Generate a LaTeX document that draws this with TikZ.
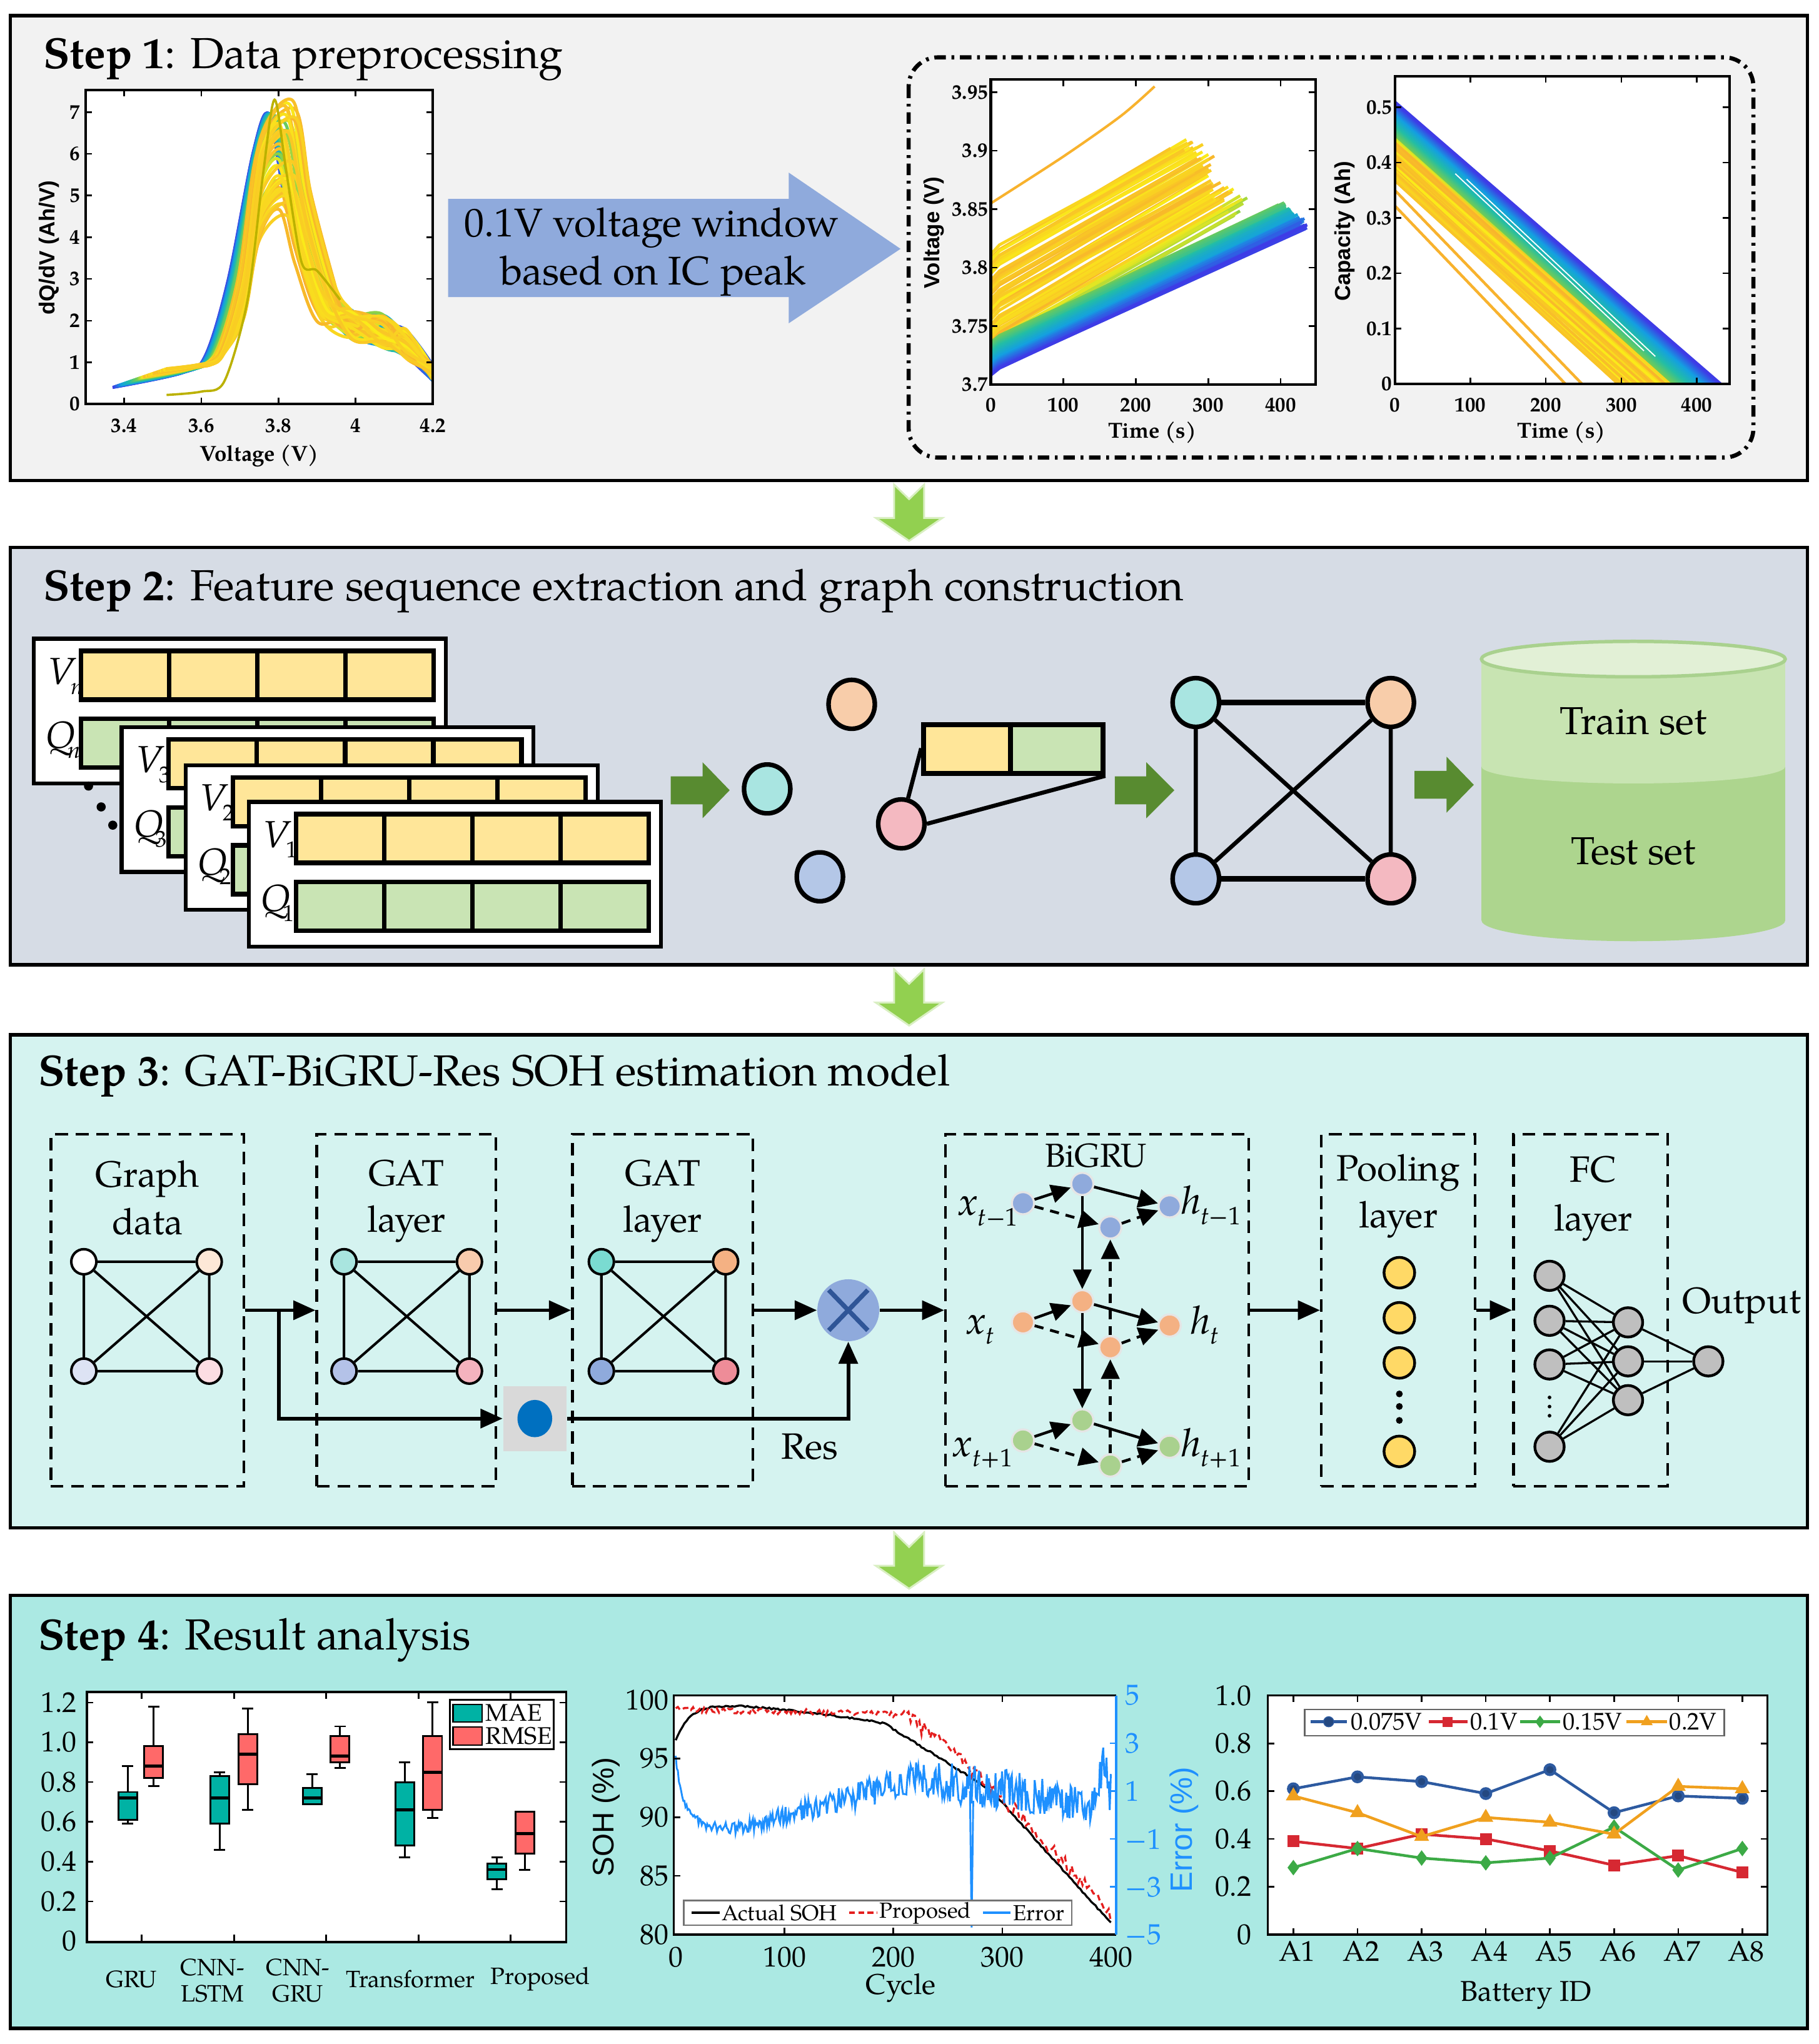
\documentclass[tikz,border=0pt]{standalone}
\usepackage{fontspec}
\setmainfont{TeX Gyre Pagella}
\newfontfamily\lsans{Liberation Sans}
\usetikzlibrary{arrows.meta,shapes.geometric,plotmarks}
\newcommand\fsz[1]{\fontsize{#1}{#1}\selectfont}
\newcommand\lowsub[2]{\raisebox{-0.26em}{\fsz{#1}#2}}
\definecolor{pa}{HTML}{F2F2F2}
\definecolor{pb}{HTML}{D6DCE5}
\definecolor{pc}{HTML}{D5F3F0}
\definecolor{pd}{HTML}{ABE9E3}
\definecolor{bigarr}{HTML}{8FAADC}
\definecolor{lgreen}{HTML}{92D050}
\definecolor{dgreen}{RGB}{88,139,48}
\definecolor{barY}{HTML}{FFE699}
\definecolor{barG}{HTML}{C9E4B4}
\definecolor{ncyan}{HTML}{A9E5E1}
\definecolor{norange}{HTML}{F8CDAA}
\definecolor{nblue}{HTML}{B4C7E7}
\definecolor{npink}{HTML}{F4B9C1}
\definecolor{cylTop}{HTML}{E2F0D6}
\definecolor{cylUp}{HTML}{C8E4B2}
\definecolor{cylLow}{HTML}{ADD58E}
\definecolor{cylEdge}{HTML}{A9D18E}
\definecolor{gaA}{HTML}{FFFFFF}\definecolor{gaB}{HTML}{FDE8D7}\definecolor{gaC}{HTML}{DDE3F4}\definecolor{gaD}{HTML}{FCDDE3}
\definecolor{gbA}{HTML}{A9E5DF}\definecolor{gbB}{HTML}{F8CBAD}\definecolor{gbC}{HTML}{B4C2E8}\definecolor{gbD}{HTML}{F4B3BE}
\definecolor{gcA}{HTML}{7ADBD1}\definecolor{gcB}{HTML}{F4B183}\definecolor{gcC}{HTML}{8FAADC}\definecolor{gcD}{HTML}{EE8C98}
\definecolor{sqgray}{HTML}{D9D9D9}
\definecolor{dotblue}{HTML}{0070C0}
\definecolor{multc}{HTML}{8FAADC}
\definecolor{multx}{HTML}{2F5597}
\definecolor{ruB}{HTML}{8FAADC}
\definecolor{ruO}{HTML}{F4B183}
\definecolor{ruG}{HTML}{A9D18E}
\definecolor{poolY}{HTML}{FFD966}
\definecolor{fcgray}{HTML}{BFBFBF}
\definecolor{maec}{RGB}{0,178,164}
\definecolor{rmsec}{RGB}{255,105,105}
\definecolor{errc}{RGB}{30,144,255}
\definecolor{redd}{RGB}{228,30,30}
\definecolor{cva}{RGB}{45,90,160}
\definecolor{cvb}{RGB}{214,40,50}
\definecolor{cvc}{RGB}{60,170,70}
\definecolor{cvd}{RGB}{240,160,30}
\definecolor{cmA}{RGB}{62,60,230}
\definecolor{cmB}{RGB}{20,160,225}
\definecolor{cmC}{RGB}{35,190,165}
\definecolor{cmD}{RGB}{120,205,80}
\definecolor{cmE}{RGB}{250,235,25}
\definecolor{cmF}{RGB}{248,178,45}
\newcommand\setcm[1]{%
 \pgfmathsetmacro\cmt{#1}%
 \ifdim\cmt pt<0.15pt
   \pgfmathtruncatemacro\cmp{100-100*\cmt/0.15}\colorlet{cmc}{cmA!\cmp!cmB}%
 \else\ifdim\cmt pt<0.3pt
   \pgfmathtruncatemacro\cmp{100-100*(\cmt-0.15)/0.15}\colorlet{cmc}{cmB!\cmp!cmC}%
 \else\ifdim\cmt pt<0.45pt
   \pgfmathtruncatemacro\cmp{100-100*(\cmt-0.3)/0.15}\colorlet{cmc}{cmC!\cmp!cmD}%
 \else\ifdim\cmt pt<0.55pt
   \pgfmathtruncatemacro\cmp{100-100*(\cmt-0.45)/0.1}\colorlet{cmc}{cmD!\cmp!cmE}%
 \else
   \pgfmathtruncatemacro\cmp{100*rnd}\colorlet{cmc}{cmE!\cmp!cmF}%
 \fi\fi\fi\fi}
\newcommand\dnarr[1]{\fill[lgreen,draw=lgreen!35!white,line width=0.8pt] (685.8,#1) -- (697.35,{#1+11.2}) -- (708.9,#1) -- (708.9,{#1+25.6}) -- (722.9,{#1+25.6}) -- (697.35,{#1+43.2}) -- (671.8,{#1+25.6}) -- (685.8,{#1+25.6}) -- cycle;}
\newcommand\seqcard[4]{%
 \node[draw=black,line width=1.7pt,fill=white,minimum width=6.32cm,minimum height=2.22cm,anchor=north west,inner sep=0pt] (#4) at (#1,#2) {};
 \foreach \k in {0,1,2,3}{%
  \draw[fill=barY,line width=2pt] ({#1+37.6+67.65*\k},{#2+10.8}) rectangle ++(67.65,37.4);
  \draw[fill=barG,line width=2pt] ({#1+37.6+67.65*\k},{#2+63}) rectangle ++(67.65,37.4);}
 \node[anchor=base west,font=\fsz{16.5},inner sep=0pt] (#4v) at ({#1+12},{#2+36.4}) {\textit{V}\kern-0.14em\lowsub{10}{#3}};
 \node[anchor=base west,font=\fsz{16.5},inner sep=0pt] (#4q) at ({#1+10.5},{#2+85.6}) {\textit{Q}\kern-0.2em\lowsub{10}{#3}};
}
\newcommand\minigraph[7]{%
 \node[gnode,fill=#4] (#1a) at (#2,967.9) {};
 \node[gnode,fill=#5] (#1b) at (#3,967.9) {};
 \node[gnode,fill=#6] (#1c) at (#2,1051.8) {};
 \node[gnode,fill=#7] (#1d) at (#3,1051.8) {};
 \draw[gedge] (#1a)--(#1b) (#1c)--(#1d) (#1a)--(#1c) (#1b)--(#1d) (#1a)--(#1d) (#1b)--(#1c);
}
\newcommand\bxp[7]{%
 \draw[line width=0.8pt] (#1,#2) -- (#1,#3) (#1,#5) -- (#1,#6);
 \draw[line width=0.8pt] ({#1-4.3},#2) -- ({#1+4.3},#2) ({#1-4.3},#6) -- ({#1+4.3},#6);
 \draw[line width=0.8pt,fill=#7] ({#1-7.2},#3) rectangle ({#1+7.2},#5);
 \draw[line width=1.3pt] ({#1-7.2},#4) -- ({#1+7.2},#4);
}
\tikzset{declare function={
 sohA(\c)=(\c<190)?(96.5+3.3*(1-exp(-min(\c/13,20)))-0.0035*\c-0.000028*\c*\c):((\c<290)?(98.1-0.058*(\c-190)):(92.3-0.103*(\c-290)));
 sohP(\c)=(\c<210)?(99.2-0.002*\c):(98.78-0.07*(\c-210)-0.0001*(\c-210)*(\c-210));
 errE(\c)=2.9*exp(-min(\c/9,20))-0.55+0.013*min(max(\c-60,0),160)-0.006*max(\c-220,0)+1.6*exp(-min(((\c-393)/6)*((\c-393)/6),20));
 errA(\c)=0.2+0.003*min(max(\c-40,0),220);
}}
\begin{document}
\begin{tikzpicture}[x=0.02cm,y=-0.02cm,
  pnl/.style={draw=black,line width=1.5pt},
  ttl/.style={anchor=base west,font=\fsz{19},inner sep=0pt},
  dbx/.style={draw=black,line width=1.2pt,dash pattern=on 5.5pt off 3.5pt,minimum height=5.404cm,inner sep=0pt},
  arr/.style={line width=1.6pt,-{Triangle[length=0.34cm,width=0.29cm]}},
  gnode/.style={circle,draw=black,line width=1.1pt,minimum size=0.385cm,inner sep=0pt},
  gedge/.style={line width=1.1pt},
  s2node/.style={ellipse,draw=black,line width=2pt,minimum width=0.71cm,minimum height=0.75cm,inner sep=0pt},
  rnode/.style={circle,draw=black!10,line width=0.9pt,minimum size=0.34cm,inner sep=0pt},
  barr/.style={line width=1.2pt,-{Triangle[length=0.3cm,width=0.28cm]}},
  txtc/.style={anchor=base,font=\fsz{16}},
  tla/.style={font=\fsz{9}\bfseries,inner sep=1pt},
  tlb/.style={font=\fsz{12.5},inner sep=1pt},
  tick/.style={line width=0.7pt},
]
\useasboundingbox (0,0) rectangle (1395,1568);
\fill[white] (0,0) rectangle (1395,1568);
\pgfmathsetseed{7}
% ---------------- panels
\fill[pa] (8,12) rectangle (1386.5,368.5);  \draw[pnl] (8,12) rectangle (1386.5,368.5);
\fill[pb] (8,420) rectangle (1386.5,740);   \draw[pnl] (8,420) rectangle (1386.5,740);
\fill[pc] (8,793.8) rectangle (1386.5,1172); \draw[pnl] (8,793.8) rectangle (1386.5,1172);
\fill[pd] (8,1223.8) rectangle (1386.5,1556); \draw[pnl] (8,1223.8) rectangle (1386.5,1556);
\dnarr{371.7}
\dnarr{743.5}
\dnarr{1175.5}
\node[ttl] (t1) at (33,52.5) {\textbf{Step 1}: Data preprocessing};
\node[ttl] (t2) at (33,460.6) {\textbf{Step 2}: Feature sequence extraction and graph construction};
\node[ttl] (t3) at (29,833) {\textbf{Step 3}: GAT-BiGRU-Res SOH estimation model};
\node[ttl] (t4) at (29,1265.5) {\textbf{Step 4}: Result analysis};
% ---------------- Step 1, plot 1
\begin{scope}[shift={(65.6,310)},x=5.92cm,y=0.64cm]
\fill[white] (0,0) rectangle (0.9,7.53);
\begin{scope}
\clip (0,0) rectangle (0.9,7.53);
\foreach \i in {0,...,69}{%
 \pgfmathsetmacro\tv{\i/69}%
 \pgfmathsetmacro\sv{0.045*\tv}%
 \pgfmathsetmacro\Av{(\tv<0.42)?(6.95-0.1*\tv):(4.5+2.8*rnd)}%
 \pgfmathsetmacro\pk{(\tv<0.42)?(0.475+0.04*\tv):(0.50+0.045*rnd)}%
 \setcm{\tv}%
 \draw[color=cmc,line width=1.35pt,line join=round] plot[smooth,tension=0.55] coordinates {({0.07+0.14*\tv},{0.4+0.45*\tv}) ({0.25+\sv},{0.75+0.2*\tv}) ({0.31+\sv},1.15) ({0.37+\sv},{0.43*\Av}) ({0.435+0.5*\sv},{0.87*\Av}) (\pk,\Av) ({\pk+0.04},{0.72*\Av}) ({\pk+0.1},{0.42*\Av}) (0.69,{1.9+0.35*rand}) (0.77,{1.75+0.4*rand}) (0.83,{1.45+0.35*rand}) (0.9,{0.55+0.4*rnd})};
}
\draw[color=olive!60!yellow,line width=1pt] plot[smooth] coordinates {(0.21,0.22) (0.3,0.3) (0.36,0.55) (0.42,2.5) (0.46,5.5) (0.49,7.3) (0.52,5.6) (0.56,3.4) (0.6,3.2) (0.66,2.5)};
\end{scope}
\end{scope}
\foreach \v in {3.4,3.6,3.8,4.0}{\pgfmathsetmacro\px{65.6+(\v-3.3)*296}\draw[tick] (\px,310) -- (\px,305) (\px,69) -- (\px,74);}
\foreach \k in {1,...,7}{\pgfmathsetmacro\py{310-32*\k}\draw[tick] (65.6,\py) -- (70.6,\py) (332,\py) -- (327,\py);}
\draw[line width=1.1pt] (65.6,69) rectangle (332,310);
\foreach \v/\l [count=\n] in {3.4/3.4,3.6/3.6,3.8/3.8,4.0/4,4.2/4.2}{\pgfmathsetmacro\px{65.6+(\v-3.3)*296}\node[tla] (pax\n) at (\px,326.4) {\l};}
\foreach \k in {0,...,7}{\node[tla,anchor=east] (pay\k) at (63.5,{310-32*\k}) {\k};}
\node[font=\fsz{9.5}\bfseries] (paxl) at (198.8,349.6) {Voltage (V)};
\node[rotate=90,font=\lsans\bfseries\fsz{9.5}] (payl) at (37.7,190) {dQ/dV (Ah/V)};
% big arrow
\fill[bigarr] (343.7,152.6) -- (605,152.6) -- (605,132.4) -- (690.8,190.9) -- (605,248) -- (605,227.9) -- (343.7,227.9) -- cycle;
\node[anchor=base,font=\fsz{17.5}] (aw1) at (499.8,181.4) {0.1V voltage window};
\node[anchor=base,font=\fsz{17.5}] (aw2) at (501,218.4) {based on IC peak};
% dash-dot frame
\draw[line width=1.8pt,dash pattern=on 5pt off 2.5pt on 1.2pt off 2.5pt,rounded corners=0.45cm] (697,44) rectangle (1345,351);
% ---------------- plot 2 (voltage)
\begin{scope}[shift={(760,295)},x=0.01112cm,y=17.94cm]
\fill[white] (0,0) rectangle (448,0.261);
\begin{scope}
\clip (0,0) rectangle (448,0.261);
\foreach \i in {0,...,69}{%
 \pgfmathsetmacro\tv{\i/69}%
 \pgfmathsetmacro\vz{0.022+0.09*\tv+0.006*rand}%
 \pgfmathsetmacro\Tv{345-85*\tv+15*rand}%
 \pgfmathsetmacro\vo{\vz+(0.00036+0.00003*rand)*\Tv}%
 \setcm{0.47+0.53*\tv}%
 \draw[color=cmc,line width=1.3pt] (0,\vz) -- (12,{\vz+0.008}) -- (\Tv,\vo);
}
\foreach \i in {0,...,59}{%
 \pgfmathsetmacro\tv{1-\i/59}%
 \pgfmathsetmacro\vz{0.008+0.028*\tv}%
 \pgfmathsetmacro\Tv{435-35*\tv+5*rand}%
 \pgfmathsetmacro\vo{0.135+0.02*\tv+0.003*rand}%
 \setcm{0.44*\tv}%
 \draw[color=cmc,line width=1.3pt] (0,\vz) -- (12,{\vz+0.006}) -- (\Tv,\vo);
}
\draw[color=cmF,line width=1.1pt] plot[smooth] coordinates {(0,0.155) (100,0.195) (180,0.23) (226,0.255)};
\end{scope}
\end{scope}
\foreach \v in {100,200,300,400}{\pgfmathsetmacro\px{760+0.556*\v}\draw[tick] (\px,295) -- (\px,290) (\px,61) -- (\px,66);}
\foreach \k in {1,...,5}{\pgfmathsetmacro\py{295-44.85*\k}\draw[tick] (760,\py) -- (765,\py) (1009,\py) -- (1004,\py);}
\draw[line width=1.1pt] (760,61) rectangle (1009,295);
\foreach \v [count=\n] in {0,100,200,300,400}{\node[tla] (pbx\n) at ({760+0.556*\v},310.6) {\v};}
\foreach \l [count=\n from 0] in {3.7,3.75,3.8,3.85,3.9,3.95}{\node[tla,anchor=east] (pby\n) at (760,{295-44.85*\n}) {\l};}
\node[font=\fsz{9.5}\bfseries] (pbxl) at (883.8,331.6) {Time (s)};
\node[rotate=90,font=\lsans\bfseries\fsz{9.5}] (pbyl) at (716.3,178.5) {Voltage (V)};
% ---------------- plot 3 (capacity)
\begin{scope}[shift={(1070,294.6)},x=0.01158cm,y=8.492cm]
\fill[white] (0,0) rectangle (443,0.556);
\begin{scope}
\clip (0,0) rectangle (443,0.556);
\foreach \i in {0,...,59}{%
 \pgfmathsetmacro\tv{\i/59}%
 \pgfmathsetmacro\qz{0.45-0.08*\tv+0.005*rand}%
 \pgfmathsetmacro\Tv{372-72*\tv+8*rand}%
 \setcm{0.47+0.53*\tv}%
 \draw[color=cmc,line width=1.2pt] (0,\qz) -- (\Tv,0);
}
\foreach \i in {0,...,49}{%
 \pgfmathsetmacro\tv{1-\i/49}%
 \pgfmathsetmacro\qz{0.51-0.06*\tv}%
 \pgfmathsetmacro\Tv{432-62*\tv}%
 \setcm{0.44*\tv}%
 \draw[color=cmc,line width=1.2pt] (0,\qz) -- (\Tv,0);
}
\draw[color=white,line width=0.5pt] (80,0.38) -- (330,0.06) (95,0.37) -- (345,0.05);
\draw[color=cmF,line width=1.2pt] (0,0.35) -- (248,0) (0,0.322) -- (226,0);
\end{scope}
\end{scope}
\foreach \v in {100,200,300,400}{\pgfmathsetmacro\px{1070+0.579*\v}\draw[tick] (\px,294.6) -- (\px,289.6) (\px,58.5) -- (\px,63.5);}
\foreach \k in {1,...,5}{\pgfmathsetmacro\py{294.6-42.46*\k}\draw[tick] (1070,\py) -- (1075,\py) (1326.5,\py) -- (1321.5,\py);}
\draw[line width=1.1pt] (1070,58.5) rectangle (1326.5,294.6);
\foreach \v [count=\n] in {0,100,200,300,400}{\node[tla] (pcx\n) at ({1070+0.579*\v},310.6) {\v};}
\foreach \l [count=\n from 0] in {0,0.1,0.2,0.3,0.4,0.5}{\node[tla,anchor=east] (pcy\n) at (1070,{294.6-42.46*\n}) {\l};}
\node[font=\fsz{9.5}\bfseries] (pcxl) at (1197.7,331.6) {Time (s)};
\node[rotate=90,font=\lsans\bfseries\fsz{9.5}] (pcyl) at (1031.6,177.4) {Capacity (Ah)};
% ---------------- Step 2
\seqcard{24.4}{488.5}{\textit{n}}{cn}
\seqcard{91.8}{556.4}{3}{c3}
\seqcard{141}{585.5}{2}{c2}
\seqcard{189.4}{613.7}{1}{c1}
\fill (67.9,603) circle (3.5) (77.6,619) circle (3.5) (86.5,633) circle (3.5);
\fill[dgreen] (514.5,595.5) -- (538.9,595.5) -- (538.9,584.7) -- (559.7,606.2) -- (538.9,627.7) -- (538.9,617) -- (514.5,617) -- cycle;
\node[s2node,fill=ncyan] (n1) at (588.5,605.2) {};
\node[s2node,fill=norange] (n2) at (653.3,540.3) {};
\node[s2node,fill=nblue] (n3) at (628.9,672.6) {};
\node[s2node,fill=npink] (n4) at (691.4,632) {};
\fill[barY] (706.6,553.8) rectangle (774.9,591.3);
\fill[barG] (774.9,553.8) rectangle (844,591.3);
\node[draw=black,line width=2.2pt,minimum width=2.748cm,minimum height=0.75cm,anchor=north west,inner sep=0pt] (sbar) at (706.6,553.8) {};
\draw[line width=2.2pt] (774.9,553.8) -- (774.9,591.3);
\coordinate (sbl) at (706.6,574);
\draw[line width=1.8pt] (sbl) -- (n4);
\draw[line width=1.8pt] (n4.east) -- (sbar.south east);
\fill[dgreen] (855.2,595.5) -- (879.3,595.5) -- (879.3,584.7) -- (900.8,606.2) -- (879.3,627.7) -- (879.3,617) -- (855.2,617) -- cycle;
\node[s2node,fill=ncyan,minimum width=0.712cm,minimum height=0.748cm] (g1) at (917.3,538.9) {};
\node[s2node,fill=norange,minimum width=0.712cm,minimum height=0.748cm] (g2) at (1066.8,538.9) {};
\node[s2node,fill=nblue,minimum width=0.712cm,minimum height=0.748cm] (g3) at (917.3,674.2) {};
\node[s2node,fill=npink,minimum width=0.712cm,minimum height=0.748cm] (g4) at (1066.8,674.2) {};
\draw[line width=2.4pt] (g1) -- (g2) (g3) -- (g4);
\draw[line width=1.8pt] (g1) -- (g3) (g2) -- (g4) (g1) -- (g4) (g2) -- (g3);
\fill[dgreen] (1085,591.3) -- (1109.6,591.3) -- (1109.6,580.5) -- (1130.5,602) -- (1109.6,623.4) -- (1109.6,612.7) -- (1085,612.7) -- cycle;
% cylinder
\fill[cylLow] (1136.4,588) rectangle (1369.4,706);
\fill[cylLow] (1252.9,706) ellipse [x radius=116.5,y radius=16];
\fill[cylUp] (1136.4,505.6) rectangle (1369.4,588);
\fill[cylUp] (1252.9,588) ellipse [x radius=116.5,y radius=13];
\filldraw[fill=cylTop,draw=cylEdge,line width=1.5pt] (1252.9,505.6) ellipse [x radius=116.5,y radius=13.6];
\node[anchor=base,font=\fsz{17}] (trn) at (1252.9,563.4) {Train set};
\node[anchor=base,font=\fsz{17}] (tst) at (1252.9,663) {Test set};
% ---------------- Step 3
\node[dbx,minimum width=2.964cm] (b1) at (113.1,1005.1) {};
\node[dbx,minimum width=2.75cm] (b2) at (311.75,1005.1) {};
\node[dbx,minimum width=2.768cm] (b3) at (508.3,1005.1) {};
\node[dbx,minimum width=4.652cm] (b4) at (841.6,1005.1) {};
\node[dbx,minimum width=2.356cm] (b5) at (1072.5,1005.1) {};
\node[dbx,minimum width=2.366cm] (b6) at (1220.05,1005.1) {};
\node[txtc] (b1t) at (113.1,910.6) {Graph};
\node[txtc] (b1u) at (113.1,946.9) {data};
\node[txtc] (b2t) at (311.75,909.5) {GAT};
\node[txtc] (b2u) at (311.75,945.3) {layer};
\node[txtc] (b3t) at (508.3,909.5) {GAT};
\node[txtc] (b3u) at (508.3,945.3) {layer};
\node[anchor=base,font=\fsz{14.5}] (b4t) at (840.5,895.1) {BiGRU};
\node[txtc] (b5t) at (1072.6,905.9) {Pooling};
\node[txtc] (b5u) at (1072.6,941.7) {layer};
\node[txtc] (b6t) at (1222.1,907) {FC};
\node[txtc] (b6u) at (1222.1,944) {layer};
\node[txtc] (outl) at (1335.9,1007.3) {Output};
\node[txtc] (resl) at (621,1119.4) {Res};
\minigraph{ga}{64.3}{160.5}{gaA}{gaB}{gaC}{gaD}
\minigraph{gb}{263.9}{360.1}{gbA}{gbB}{gbC}{gbD}
\minigraph{gc}{461.3}{556.6}{gcA}{gcB}{gcC}{gcD}
\node[fill=sqgray,minimum width=0.974cm,minimum height=0.994cm,inner sep=0pt] (gsq) at (410.25,1088.2) {};
\node[ellipse,fill=dotblue,minimum width=0.532cm,minimum height=0.572cm,inner sep=0pt] (gdot) at (410.25,1088.2) {};
\node[circle,fill=multc,minimum size=0.95cm,inner sep=0pt] (mult) at (650.7,1005.1) {};
\draw[multx,line width=2pt] ([shift={(-15,-15.5)}]mult.center) -- ([shift={(15,15.5)}]mult.center);
\draw[multx,line width=2pt] ([shift={(-15,15.5)}]mult.center) -- ([shift={(15,-15.5)}]mult.center);
\coordinate (br) at (213.8,1005.1);
\draw[arr] (b1.east) -- (b2.west);
\draw[arr] (br) |- (gsq.west);
\draw[arr] (b2.east) -- (b3.west);
\draw[arr] (b3.east) -- (mult.west);
\draw[arr] (gsq.east) -| (mult.south);
\draw[arr] (mult.east) -- (b4.west);
\draw[arr] (b4.east) -- (b5.west);
\draw[arr] (b5.east) -- (b6.west);
% BiGRU
\foreach \r/\c/\ya/\yb/\yc/\yd in {1/ruB/923/908.2/941.6/925.4, 2/ruO/1014.4/998.2/1033.5/1016.8, 3/ruG/1105/1089.6/1124.2/1109.8}{%
 \node[rnode,fill=\c] (x\r) at (784.7,\ya) {};
 \node[rnode,fill=\c] (u\r) at (830.2,\yb) {};
 \node[rnode,fill=\c] (l\r) at (851.7,\yc) {};
 \node[rnode,fill=\c] (h\r) at (897.2,\yd) {};
 \draw[barr] (x\r) -- (u\r);
 \draw[barr,dash pattern=on 4pt off 3pt] (x\r) -- (l\r);
 \draw[barr] (u\r) -- (h\r);
 \draw[barr,dash pattern=on 4pt off 3pt] (l\r) -- (h\r);
}
\draw[barr] (u1) -- (u2);
\draw[barr] (u2) -- (u3);
\draw[barr,dash pattern=on 4pt off 3pt] (l3) -- (l2);
\draw[barr,dash pattern=on 4pt off 3pt] (l2) -- (l1);
\node[anchor=base,font=\fsz{17},inner sep=0pt] (xl1) at (758,932.4) {\textit{x}\lowsub{11}{\textit{t}−1}};
\node[anchor=base,font=\fsz{17},inner sep=0pt] (xl2) at (752,1023.4) {\textit{x}\lowsub{11}{\textit{t}}};
\node[anchor=base,font=\fsz{17},inner sep=0pt] (xl3) at (753.8,1117.2) {\textit{x}\lowsub{11}{\textit{t}+1}};
\node[anchor=base,font=\fsz{17},inner sep=0pt] (hl1) at (929,931.4) {\textit{h}\lowsub{11}{\textit{t}−1}};
\node[anchor=base,font=\fsz{17},inner sep=0pt] (hl2) at (924,1023.4) {\textit{h}\lowsub{11}{\textit{t}}};
\node[anchor=base,font=\fsz{17},inner sep=0pt] (hl3) at (929,1117.2) {\textit{h}\lowsub{11}{\textit{t}+1}};
% pooling
\foreach \y [count=\n] in {976.3,1010.9,1045.5,1113.4}{\node[circle,draw=black,line width=1.2pt,fill=poolY,minimum size=0.47cm,inner sep=0pt] (pl\n) at (1073.4,\y) {};}
\fill (1073.4,1069.3) circle (2.6) (1073.4,1078.9) circle (2.6) (1073.4,1089.6) circle (2.6);
% FC
\foreach \y [count=\n] in {978.7,1013.2,1046.7,1109.8}{\node[circle,draw=black,line width=1.2pt,fill=fcgray,minimum size=0.45cm,inner sep=0pt] (fa\n) at (1188.6,\y) {};}
\foreach \y [count=\n] in {1014.4,1044.3,1074.1}{\node[circle,draw=black,line width=1.2pt,fill=fcgray,minimum size=0.45cm,inner sep=0pt] (fb\n) at (1248.8,\y) {};}
\node[circle,draw=black,line width=1.2pt,fill=fcgray,minimum size=0.45cm,inner sep=0pt] (fo) at (1310.4,1044.3) {};
\foreach \a in {1,2,3,4}{\foreach \b in {1,2,3}{\draw[line width=0.9pt] (fa\a) -- (fb\b);}}
\foreach \b in {1,2,3}{\draw[line width=0.9pt] (fb\b) -- (fo);}
\fill (1188.6,1072) circle (1.4) (1188.6,1079) circle (1.4) (1188.6,1086) circle (1.4);
% ---------------- Step 4, plot a (box plots)
\fill[white] (66.7,1298) rectangle (434.4,1489.8);
\begin{scope}[shift={(0,1489.1)},y=3.052cm]
\bxp{97.9}{0.59}{0.61}{0.72}{0.75}{0.88}{maec}
\bxp{117.8}{0.78}{0.82}{0.88}{0.98}{1.18}{rmsec}
\bxp{168.5}{0.46}{0.59}{0.72}{0.83}{0.85}{maec}
\bxp{190}{0.66}{0.79}{0.94}{1.04}{1.17}{rmsec}
\bxp{239.5}{0.69}{0.69}{0.72}{0.77}{0.84}{maec}
\bxp{260.9}{0.87}{0.90}{0.93}{1.03}{1.08}{rmsec}
\bxp{310.5}{0.42}{0.48}{0.66}{0.80}{0.90}{maec}
\bxp{331.9}{0.62}{0.66}{0.85}{1.03}{1.20}{rmsec}
\bxp{381.1}{0.26}{0.31}{0.36}{0.39}{0.42}{maec}
\bxp{402.6}{0.36}{0.44}{0.54}{0.65}{0.65}{rmsec}
\foreach \v in {0.2,0.4,0.6,0.8,1.0,1.2}{\draw[tick] (66.7,\v) -- (71.7,\v) (434.4,\v) -- (429.4,\v);}
\foreach \x in {108.6,179.6,250.2,321.2,391.5}{\draw[tick] (\x,0) -- (\x,0.033) (\x,1.252) -- (\x,1.219);}
\end{scope}
\draw[line width=0.9pt] (66.7,1298) rectangle (434.4,1489.8);
\foreach \l [count=\n from 0] in {0,0.2,0.4,0.6,0.8,1.0,1.2}{\node[tlb,anchor=east] (qay\n) at (61,{1489.1-152.6*0.2*\n}) {\l};}
\node[font=\fsz{10.3}] (ca1) at (100.9,1518.1) {GRU};
\node[font=\fsz{10.3},align=center,inner sep=0pt] (ca2) at (163,1519.3) {CNN-\\[1.2pt]LSTM};
\node[font=\fsz{10.3},align=center,inner sep=0pt] (ca3) at (228.5,1519.3) {CNN-\\[1.2pt]GRU};
\node[font=\fsz{10.3}] (ca4) at (315,1518.1) {Transformer};
\node[font=\fsz{10.3}] (ca5) at (414.5,1518.1) {Proposed};
\node[draw=black,line width=0.8pt,fill=white,minimum width=1.592cm,minimum height=0.76cm,inner sep=0pt] (lga) at (384.8,1323) {};
\draw[line width=0.6pt,fill=maec] (347.5,1307.4) rectangle (370,1320.8);
\draw[line width=0.6pt,fill=rmsec] (347.5,1324.8) rectangle (370,1338.6);
\node[anchor=west,font=\fsz{10.5},inner sep=1pt] (lgam) at (370.5,1314.1) {MAE};
\node[anchor=west,font=\fsz{10.5},inner sep=1pt] (lgar) at (370.5,1331.7) {RMSE};
% ---------------- Step 4, plot b (SOH)
\fill[white] (516.8,1300.7) rectangle (856.4,1484);
\begin{scope}[shift={(518.3,1484)},x=0.0167cm,y=0.18cm]
\begin{scope}
\clip (-1.8,0) rectangle (404.9,20.37);
\draw[black,line width=0.9pt] plot[domain=0:400,samples=201] (\x,{sohA(\x)-80+0.08*rand});
\draw[redd,line width=0.9pt,dash pattern=on 2.5pt off 1.5pt] plot[domain=0:400,samples=201] (\x,{sohP(\x)-80+((\x<210)?0.25:0.6)*rand});
\draw[errc,line width=0.8pt] plot[domain=0:400,samples=401] (\x,{10.18+2.039*(errE(\x)+errA(\x)*rand)});
\draw[errc,line width=0.8pt] (270.5,{10.18+2.039}) -- (272,{10.18-2.039*4.7}) -- (273.5,{10.18+2.039*0.6});
\end{scope}
\end{scope}
\foreach \v in {100,200,300}{\pgfmathsetmacro\px{518.3+0.835*\v}\draw[tick] (\px,1484) -- (\px,1479) (\px,1300.7) -- (\px,1305.7);}
\foreach \v in {85,90,95}{\pgfmathsetmacro\py{1484-9*(\v-80)}\draw[tick] (516.8,\py) -- (521.8,\py);}
\foreach \e in {-3,-1,1,3}{\pgfmathsetmacro\py{1392.4-18.35*\e}\draw[tick,errc] (856.4,\py) -- (851.4,\py);}
\draw[line width=0.9pt] (856.4,1300.7) -- (516.8,1300.7) -- (516.8,1484) -- (856.4,1484);
\draw[errc,line width=1.1pt] (856.4,1300.7) -- (856.4,1484);
\foreach \v [count=\n] in {80,85,90,95,100}{\node[tlb,anchor=east] (qby\n) at (515,{1484-9*(\v-80)}) {\v};}
\foreach \v [count=\n] in {0,100,200,300,400}{\node[tlb] (qbx\n) at ({518.3+0.835*\v},1501.4) {\v};}
\foreach \e/\l [count=\n] in {5/5,3/3,1/1,-1/−1,-3/−3,-5/−5}{\node[tlb,anchor=west,text=errc] (qbr\n) at (861,{1392.4-18.35*\e}) {\l};}
\node[font=\fsz{12.5}] (qbxl) at (691,1524.8) {Cycle};
\node[rotate=90,font=\lsans\fsz{13}] (qbyl) at (464.9,1394) {SOH (\%)};
\node[rotate=90,font=\lsans\fsz{13.5},text=errc] (qbrl) at (908.4,1403.4) {Error (\%)};
\node[draw=black!55,line width=0.7pt,fill=white,minimum width=5.952cm,minimum height=0.376cm,inner sep=0pt] (lgb) at (673.3,1467.4) {};
\draw[black,line width=1pt] (530.5,1467.4) -- (552,1467.4);
\node[anchor=west,font=\fsz{9.5},inner sep=0.5pt] (lgb1) at (552.5,1467.4) {Actual SOH};
\draw[redd,line width=1pt,dash pattern=on 2.5pt off 1.5pt] (651.4,1467.4) -- (672.9,1467.4);
\node[anchor=west,font=\fsz{9.5},inner sep=0.5pt] (lgb2) at (673.5,1467.4) {Proposed};
\draw[errc,line width=1pt] (753.9,1467.4) -- (775.3,1467.4);
\node[anchor=west,font=\fsz{9.5},inner sep=0.5pt] (lgb3) at (776,1467.4) {Error};
% ---------------- Step 4, plot c
\fill[white] (972.4,1300.7) rectangle (1355.7,1484);
\begin{scope}[shift={(0,1484)},y=3.666cm]
\foreach \v in {0.2,0.4,0.6,0.8}{\draw[tick] (972.4,\v) -- (977.4,\v) (1355.7,\v) -- (1350.7,\v);}
\foreach \k in {0,...,7}{\draw[tick] ({992.1+49.2*\k},0) -- ({992.1+49.2*\k},0.027) ({992.1+49.2*\k},1) -- ({992.1+49.2*\k},0.973);}
\draw[cva,line width=1.2pt] plot[mark=*,mark size=2.2pt,mark options={fill=cva!80!black,draw=cva}] coordinates {(992.1,0.61) (1041.3,0.66) (1090.5,0.64) (1139.7,0.59) (1188.9,0.69) (1238.1,0.51) (1287.3,0.58) (1336.5,0.57)};
\draw[cvb,line width=1.2pt] plot[mark=square*,mark size=2pt,mark options={fill=cvb}] coordinates {(992.1,0.39) (1041.3,0.36) (1090.5,0.42) (1139.7,0.40) (1188.9,0.35) (1238.1,0.29) (1287.3,0.33) (1336.5,0.26)};
\draw[cvc,line width=1.2pt] plot[mark=diamond*,mark size=2.4pt,mark options={fill=cvc}] coordinates {(992.1,0.28) (1041.3,0.36) (1090.5,0.32) (1139.7,0.30) (1188.9,0.32) (1238.1,0.45) (1287.3,0.27) (1336.5,0.36)};
\draw[cvd,line width=1.2pt] plot[mark=triangle*,mark size=2.6pt,mark options={fill=cvd}] coordinates {(992.1,0.58) (1041.3,0.51) (1090.5,0.41) (1139.7,0.49) (1188.9,0.47) (1238.1,0.42) (1287.3,0.62) (1336.5,0.61)};
\end{scope}
\draw[line width=0.9pt] (972.4,1300.7) rectangle (1355.7,1484);
\foreach \l [count=\n from 0] in {0,0.2,0.4,0.6,0.8,1.0}{\node[tlb,anchor=east] (qcy\n) at (962,{1484-183.3*0.2*\n}) {\l};}
\foreach \k in {1,...,8}{\node[tlb] (qcx\k) at ({995+49.2*(\k-1)},1497) {A\k};}
\node[font=\fsz{12.5}] (qcxl) at (1170.6,1530.4) {Battery ID};
\node[draw=black!60,line width=0.7pt,fill=white,minimum width=6.438cm,minimum height=0.402cm,inner sep=0pt] (lgc) at (1161.75,1321.45) {};
\draw[cva,line width=1.2pt] (1005.3,1320.8) -- (1033.2,1320.8);
\path plot[mark=*,mark size=2.2pt,mark options={fill=cva!80!black,draw=cva}] coordinates {(1019.2,1320.8)};
\node[anchor=west,font=\fsz{10.5},inner sep=0.5pt] (lgc1) at (1035,1320.8) {0.075V};
\draw[cvb,line width=1.2pt] (1095.9,1320.8) -- (1125.8,1320.8);
\path plot[mark=square*,mark size=2pt,mark options={fill=cvb,draw=cvb}] coordinates {(1110.3,1320.8)};
\node[anchor=west,font=\fsz{10.5},inner sep=0.5pt] (lgc2) at (1126.5,1320.8) {0.1V};
\draw[cvc,line width=1.2pt] (1166,1320.8) -- (1196.8,1320.8);
\path plot[mark=diamond*,mark size=2.4pt,mark options={fill=cvc,draw=cvc}] coordinates {(1181.3,1320.8)};
\node[anchor=west,font=\fsz{10.5},inner sep=0.5pt] (lgc3) at (1197.5,1320.8) {0.15V};
\draw[cvd,line width=1.2pt] (1247.7,1320.8) -- (1278.7,1320.8);
\path plot[mark=triangle*,mark size=2.6pt,mark options={fill=cvd,draw=cvd}] coordinates {(1263.2,1320.8)};
\node[anchor=west,font=\fsz{10.5},inner sep=0.5pt] (lgc4) at (1279.4,1320.8) {0.2V};
\end{tikzpicture}
\end{document}
